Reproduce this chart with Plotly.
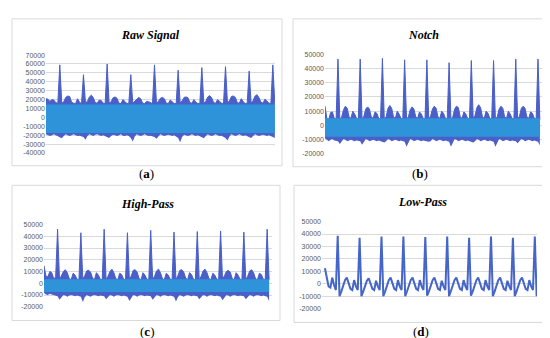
import plotly.graph_objects as go

# ---------------- data ----------------
sample_idx = list(range(117))

# (a) Raw signal: upper / lower envelope of the dense trace
raw_upper = [21000, 20500, 18000, 20000, 19500, 16500, 16000,
             59000, 16000, 17500, 22500, 24000, 23500, 17000, 16000, 15500, 21000, 17000, 15500,
             48000, 16500, 18000, 23000, 25000, 22000, 16500, 16000, 19500, 19000, 16000, 15500,
             60000, 16000, 17500, 22000, 23000, 21500, 16000, 15500, 20000, 18000, 15500, 16000,
             48000, 16000, 18000, 21000, 22500, 21000, 16000, 15500, 18000, 17500, 16000, 15500,
             59000, 16000, 18000, 21500, 22500, 21000, 16000, 15500, 19500, 17500, 15500, 15500,
             53000, 16500, 18500, 22500, 23000, 22000, 16500, 16000, 20000, 17000, 15500, 16000,
             56000, 16000, 18000, 23000, 24500, 22000, 16500, 16000, 20000, 18000, 16000, 15500,
             57000, 16500, 18500, 23500, 24000, 22500, 16500, 16000, 21000, 17500, 15500, 16000,
             52000, 16000, 19000, 24000, 25500, 22000, 17000, 16000, 20500, 18500, 16000, 15500,
             59000, 16000]
raw_lower = [-19000, -20000, -21000, -20000, -19000, -20000, -21000,
             -22000, -23500, -21000, -19000, -20000, -21000, -20000, -19000, -20000, -21000, -20500, -21000,
             -22000, -25000, -21000, -19000, -20000, -21000, -19500, -19000, -20000, -21000, -20000, -21000,
             -22000, -23000, -21000, -19500, -20000, -21000, -20000, -19000, -20500, -21000, -20000, -21000,
             -23000, -27000, -21500, -19000, -20000, -21000, -20000, -19000, -20000, -21000, -20500, -21000,
             -22000, -24000, -21000, -19000, -20000, -21000, -20000, -19500, -20000, -21000, -20000, -21500,
             -23000, -28000, -22000, -19500, -20000, -21000, -20000, -19000, -20000, -21000, -20000, -21000,
             -22000, -23500, -21000, -19000, -20000, -21000, -20000, -19000, -20000, -21000, -20500, -21500,
             -23000, -26000, -21500, -19000, -20000, -21000, -20000, -19000, -20000, -21000, -20000, -21000,
             -22000, -23000, -21000, -19000, -20000, -21000, -20000, -19500, -20000, -21000, -20000, -21500,
             -22000, -23000]
raw_band = [-17500, 14500]

# (b) Notch
notch_upper = [13500, 5000, 4000, 9000, 9500, 5000, 4500,
               46500, 4500, 6000, 11000, 13500, 12000, 6000, 5000, 10000, 8000, 5000, 4500,
               46500, 4500, 6500, 11500, 13000, 11500, 6000, 5000, 9500, 8500, 5000, 4500,
               47000, 4500, 6000, 12000, 14000, 12000, 6000, 5000, 10000, 8000, 5000, 4500,
               46000, 4500, 6000, 11000, 13000, 11500, 6000, 5000, 9500, 8000, 5000, 4500,
               46000, 4500, 6500, 11500, 13500, 12000, 6000, 5000, 10000, 8500, 5000, 4500,
               44000, 4500, 6000, 11500, 13500, 12500, 6000, 5000, 9500, 8000, 5000, 4500,
               45500, 5000, 7000, 12500, 14500, 12500, 6000, 5000, 10000, 8500, 5000, 4500,
               45500, 4500, 6000, 11500, 13500, 12000, 6000, 5000, 10000, 8000, 5000, 4500,
               46500, 4500, 6500, 12000, 13500, 12000, 6000, 5000, 9500, 8500, 5000, 4500,
               46500, 4000]
notch_lower = [-9000, -10000, -11000, -10000, -9500, -10500, -11000,
               -11000, -13000, -11000, -9500, -10000, -11000, -10500, -10000, -10500, -11000, -10500, -11000,
               -11000, -13500, -11000, -9500, -10000, -11000, -10500, -10000, -10500, -11000, -10500, -11000,
               -11000, -12000, -11000, -9500, -10000, -11000, -10500, -10000, -10500, -11000, -10500, -11000,
               -11500, -15000, -11500, -9500, -10000, -11000, -10500, -10000, -10500, -11000, -10500, -11000,
               -11000, -11500, -11000, -9500, -10000, -11000, -10500, -10000, -10500, -11000, -10500, -11000,
               -11500, -15000, -11500, -9500, -10000, -11000, -10500, -10000, -10500, -11000, -10500, -11000,
               -11000, -12000, -11000, -9500, -10000, -11000, -10500, -10000, -10500, -11000, -10500, -11000,
               -11500, -15000, -11500, -9500, -10000, -11000, -10500, -10000, -10500, -11000, -10500, -11000,
               -11000, -12500, -11000, -9500, -10000, -11000, -10500, -10000, -10500, -11000, -10500, -11000,
               -11500, -14000]
notch_band = [-8000, 5000]

# (c) High-pass
hp_upper = [15000, 6000, 5500, 10000, 9000, 4000, 5000,
            46000, 3000, 6000, 10000, 11500, 9000, 4000, 3000, 8500, 7000, 3500, 3000,
            43000, 3500, 6500, 10500, 11000, 9500, 4500, 3000, 9000, 7000, 3500, 3000,
            46000, 3000, 6000, 10000, 12000, 9000, 4000, 3000, 8500, 7500, 3500, 3000,
            43000, 3000, 6500, 11000, 11500, 9500, 4000, 3000, 9000, 7000, 3500, 3000,
            45000, 3500, 6000, 10500, 12000, 9000, 4000, 3000, 8500, 7000, 3500, 3000,
            43500, 3000, 6500, 11000, 11500, 9500, 4500, 3000, 9000, 7500, 3500, 3000,
            44000, 3000, 6000, 10500, 12000, 9000, 4000, 3000, 8500, 7000, 3500, 3000,
            44500, 3500, 6500, 10000, 11000, 9500, 4000, 3000, 9000, 7000, 3500, 3000,
            43500, 3000, 6000, 10500, 11500, 9000, 4000, 3000, 8500, 7500, 3500, 3000,
            46000, 3000]
hp_lower = [-8000, -9500, -10000, -9000, -9500, -10000, -10500,
            -11000, -14000, -12000, -10000, -10500, -11500, -10500, -10000, -10500, -11000, -10500, -11000,
            -11500, -16000, -12000, -10000, -10500, -11500, -10500, -10000, -10500, -11000, -10500, -11000,
            -11000, -13500, -12000, -10000, -10500, -11500, -10500, -10000, -10500, -11000, -10500, -11000,
            -11500, -15000, -12000, -10000, -10500, -11500, -10500, -10000, -10500, -11000, -10500, -11000,
            -11000, -14000, -12000, -10000, -10500, -11500, -10500, -10000, -10500, -11000, -10500, -11000,
            -11500, -15500, -12000, -10000, -10500, -11500, -10500, -10000, -10500, -11000, -10500, -11000,
            -11000, -13500, -12000, -10000, -10500, -11500, -10500, -10000, -10500, -11000, -10500, -11000,
            -11500, -14500, -12000, -10000, -10500, -11500, -10500, -10000, -10500, -11000, -10500, -11000,
            -11000, -13500, -12000, -10000, -10500, -11500, -10500, -10000, -10500, -11000, -10500, -11000,
            -11500, -15000]
hp_band = [-7500, 3500]

# (d) Low-pass
lp_signal = [12500, 4000, -2000, -3000, 5000, -1000, -5000,
             38500, -10000, -6000, -1000, 3000, 5000, 1000, -4000, -5000, 3000, -2000, -5000,
             37000, -10000, -6000, -1500, 2500, 4500, 500, -4000, -5000, 2500, -2000, -5000,
             38000, -10000, -6000, -1000, 3000, 5000, 1000, -4000, -5000, 3000, -2000, -5000,
             38000, -10000, -6000, -1000, 3000, 5000, 1000, -4000, -5000, 3000, -2000, -5000,
             37500, -9500, -6000, -1000, 3000, 5000, 1000, -4000, -5000, 2500, -2000, -5000,
             38000, -10000, -6000, -1000, 3000, 5000, 1000, -4000, -5000, 3000, -2000, -5000,
             37000, -9500, -6000, -1000, 3000, 5000, 1000, -4000, -5000, 3000, -2000, -5000,
             38000, -10000, -6000, -1000, 3000, 5000, 1000, -4000, -5000, 2500, -2000, -5000,
             37000, -10000, -6000, -1000, 3000, 5000, 1000, -4000, -5000, 3000, -2000, -5000,
             38000, -10000]

titles = ["Raw Signal", "Notch", "High-Pass", "Low-Pass"]
panel_tags = ["a", "b", "c", "d"]
ticks_a = [-40000, -30000, -20000, -10000, 0, 10000, 20000, 30000, 40000, 50000, 60000, 70000]
ticks_bcd = [-20000, -10000, 0, 10000, 20000, 30000, 40000, 50000]

# ---------------- styling / layout ----------------
W, H = 550, 338
DARK = "#4a5fc8"
LIGHT = "#2f93d9"
GRID = "#d9d9d9"
TICKCOL = "#595959"

def px_x(p):
    return p / W

def px_y(p):
    return (H - p) / H

fig = go.Figure()

def add_env(upper, lower, band, ax):
    xa, ya = "x" + ax, "y" + ax
    fig.add_trace(go.Scatter(x=sample_idx, y=lower, mode="lines", line=dict(width=0, color=DARK),
                             xaxis=xa, yaxis=ya, showlegend=False, hoverinfo="skip"))
    fig.add_trace(go.Scatter(x=sample_idx, y=upper, mode="lines", line=dict(width=1, color=DARK),
                             fill="tonexty", fillcolor=DARK,
                             xaxis=xa, yaxis=ya, showlegend=False, hoverinfo="skip"))
    xs = [sample_idx[0], sample_idx[-1]]
    fig.add_trace(go.Scatter(x=xs, y=[band[0]] * 2, mode="lines", line=dict(width=0, color=LIGHT),
                             xaxis=xa, yaxis=ya, showlegend=False, hoverinfo="skip"))
    fig.add_trace(go.Scatter(x=xs, y=[band[1]] * 2, mode="lines", line=dict(width=0, color=LIGHT),
                             fill="tonexty", fillcolor=LIGHT,
                             xaxis=xa, yaxis=ya, showlegend=False, hoverinfo="skip"))

add_env(raw_upper, raw_lower, raw_band, "")
add_env(notch_upper, notch_lower, notch_band, "2")
add_env(hp_upper, hp_lower, hp_band, "3")
fig.add_trace(go.Scatter(x=sample_idx, y=lp_signal, mode="lines", line=dict(width=2, color="#4565c8"),
                         xaxis="x4", yaxis="y4", showlegend=False, hoverinfo="skip"))

# panel geometry in pixels: plot-area left, right, top(px of max), bottom(px of min)
geo = {
    "": dict(x=(38, 267), y=(144, 44), xr=[0, 116.1], yr=[-40000, 70000], ticks=ticks_a),
    "2": dict(x=(317, 535), y=(145, 43), xr=[0, 117.7], yr=[-20000, 50000], ticks=ticks_bcd),
    "3": dict(x=(36, 264), y=(301, 217), xr=[0, 117.5], yr=[-20000, 50000], ticks=ticks_bcd),
    "4": dict(x=(314, 529), y=(303, 214), xr=[-1.6, 116.2], yr=[-20000, 50000], ticks=ticks_bcd),
}
layout_axes = {}
for ax, g in geo.items():
    k = "1" if ax == "" else ax
    xname = "xaxis" + ax
    yname = "yaxis" + ax
    layout_axes[xname] = dict(domain=[px_x(g["x"][0]), px_x(g["x"][1])], range=g["xr"],
                              anchor="y" + ax, showgrid=False, zeroline=False,
                              showticklabels=False, showline=False, ticks="")
    layout_axes[yname] = dict(domain=[px_y(g["y"][0]), px_y(g["y"][1])], range=g["yr"],
                              anchor="x" + ax, showgrid=True, gridcolor=GRID, gridwidth=1,
                              zeroline=False, showline=False, ticks="",
                              tickvals=g["ticks"], ticktext=[str(t) for t in g["ticks"]],
                              tickfont=dict(family="Liberation Sans, Arial", size=7, color=TICKCOL))

fig.update_layout(width=W, height=H, margin=dict(l=0, r=0, t=0, b=0),
                  paper_bgcolor="white", plot_bgcolor="white", **layout_axes)

# chart-area borders
borders = [(4, 274, 7, 157), (285, 545, 7, 158), (4, 272, 177, 315), (286, 542, 177, 317)]
for (x0, x1, y0, y1) in borders:
    fig.add_shape(type="rect", xref="paper", yref="paper",
                  x0=px_x(x0), x1=px_x(x1), y0=px_y(y1), y1=px_y(y0),
                  line=dict(color=GRID, width=1), fillcolor="rgba(0,0,0,0)", layer="below")

title_pos = [(142, 23), (415, 23), (140, 196), (414, 194)]
for t, (x, y) in zip(titles, title_pos):
    fig.add_annotation(text="<b><i>" + t + "</i></b>", xref="paper", yref="paper",
                       x=px_x(x), y=px_y(y), showarrow=False, xanchor="center", yanchor="middle",
                       font=dict(family="Liberation Serif, Times New Roman", size=12, color="black"))

tag_pos = [(138, 165), (412, 165), (139, 326), (413, 326)]
for t, (x, y) in zip(panel_tags, tag_pos):
    fig.add_annotation(text="(<b>" + t + "</b>)", xref="paper", yref="paper",
                       x=px_x(x), y=px_y(y), showarrow=False, xanchor="center", yanchor="middle",
                       font=dict(family="Liberation Serif, Times New Roman", size=13, color="black"))

fig.write_html("out.html")
